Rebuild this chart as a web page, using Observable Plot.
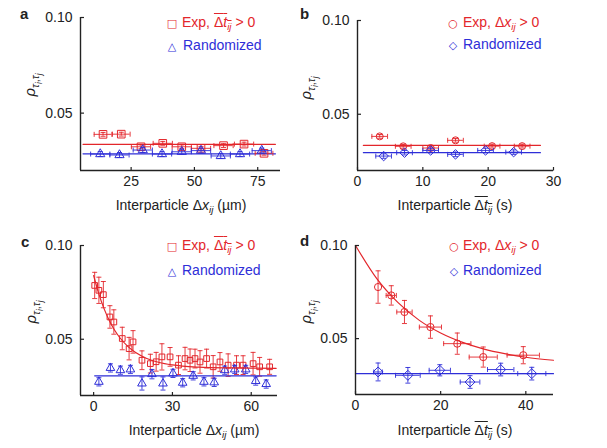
<!DOCTYPE html>
<html><head><meta charset="utf-8">
<script src="https://cdn.jsdelivr.net/npm/d3@7"></script>
<script src="https://cdn.jsdelivr.net/npm/@observablehq/plot@0.6"></script>
<style>
body{margin:0;background:#fff;}
#wrap{position:relative;width:607px;height:448px;overflow:hidden;font-family:"Liberation Sans",Arial,sans-serif;color:#222;}
.panel{position:absolute;}
.t{position:absolute;white-space:nowrap;font-size:14px;line-height:1;}
.c{transform:translate(-50%,-50%);}
.l{transform:translateY(-50%);}
.ylab{transform:translate(-50%,-50%) rotate(-90deg);font-size:15px;}
.letter{font-weight:bold;font-size:15px;}
.ov{text-decoration:overline;}
sub{font-size:70%;vertical-align:-0.35em;line-height:0;}
sub sub{font-size:80%;}
.sym{font-family:"DejaVu Sans";font-size:11px;}
.red{color:#e3262b;}
.blue{color:#2e2ed8;}
</style></head>
<body><div id="wrap"></div>
<script>
// ---------- data ----------
const red = "#e3262b", blue = "#2e2ed8";
const yDomain = [0.02, 0.10];
const yTicks = [0.05, 0.10];

// panel a
const aTicks = [25, 50, 75];
const aExpX = [13.9, 21.1, 28.9, 37.5, 45.0, 52.6, 61.5, 69.6, 77.5];
const aExpY = [0.0389, 0.0390, 0.0324, 0.0342, 0.0324, 0.0316, 0.0330, 0.0338, 0.0290];
const aExpXErr = [3.5, 3.5, 3.8, 3.8, 3.8, 3.8, 3.8, 3.8, 3.5];
const aExpYErr = [0.001, 0.001, 0.001, 0.001, 0.001, 0.001, 0.001, 0.001, 0.001];
const aRandX = [12.8, 20.4, 29.6, 37.2, 45.0, 52.6, 60.4, 68.0, 76.6];
const aRandY = [0.0286, 0.0281, 0.0307, 0.0286, 0.0298, 0.0304, 0.0276, 0.0286, 0.0304];
const aRandXErr = [3.8, 3.8, 3.8, 3.8, 3.8, 3.8, 3.8, 3.8, 3.8];
const aRandYErr = [0.0013, 0.0013, 0.0013, 0.0013, 0.0013, 0.0013, 0.0013, 0.0013, 0.0013];
const aFitX = [6, 82];
const aExpFitY = [0.0337, 0.0337];
const aRandFitY = [0.0287, 0.0287];

// panel b
const bTicks = [0, 10, 20, 30];
const bExpX = [3.4, 7.0, 11.2, 15.0, 20.6, 25.2];
const bExpY = [0.0382, 0.0329, 0.0320, 0.0361, 0.0330, 0.0330];
const bExpXErr = [1.2, 1.2, 1.2, 1.2, 1.2, 1.2];
const bExpYErr = [0.001, 0.001, 0.001, 0.001, 0.001, 0.001];
const bRandX = [4.0, 7.2, 11.2, 15.0, 19.6, 23.9];
const bRandY = [0.0277, 0.0295, 0.0307, 0.0286, 0.0307, 0.0298];
const bRandXErr = [1.2, 1.2, 1.2, 1.2, 1.2, 1.2];
const bRandYErr = [0.0012, 0.0012, 0.0012, 0.0012, 0.0012, 0.0012];
const bFitX = [0.9, 28];
const bExpFitY = [0.0334, 0.0334];
const bRandFitY = [0.0295, 0.0295];

// panel c
const cTicks = [0, 30, 60];
const cExpX = [0.4, 2.0, 3.7, 6.2, 7.7, 10.9, 13.5, 15.0, 18.4, 21.6, 23.8, 26.0, 29.1, 32.3, 34.8, 36.7, 38.6, 40.5, 43.0, 45.5, 48.1, 51.2, 54.4, 56.9, 60.7, 63.2, 67.0];
const cExpY = [0.0787, 0.0761, 0.0738, 0.0619, 0.0592, 0.0504, 0.0450, 0.0486, 0.0388, 0.0370, 0.0380, 0.0406, 0.0406, 0.0362, 0.0397, 0.0388, 0.0397, 0.0379, 0.0397, 0.0353, 0.0379, 0.0362, 0.0362, 0.0362, 0.0370, 0.0353, 0.0353];
const cExpYErr = [0.007, 0.007, 0.007, 0.006, 0.0065, 0.006, 0.006, 0.006, 0.005, 0.005, 0.005, 0.007, 0.005, 0.005, 0.006, 0.006, 0.005, 0.006, 0.005, 0.006, 0.005, 0.006, 0.005, 0.005, 0.006, 0.005, 0.004];
const cExpXErr = cExpX.map(() => 0);
const cRandX = [2.0, 6.4, 10.2, 14.0, 18.4, 22.2, 26.4, 30.2, 33.9, 37.9, 42.0, 45.9, 49.9, 53.7, 57.9, 61.7, 65.7];
const cRandY = [0.0273, 0.0347, 0.0335, 0.0339, 0.0264, 0.0314, 0.0264, 0.0318, 0.0268, 0.0305, 0.0273, 0.0270, 0.0335, 0.0339, 0.0339, 0.0277, 0.0261];
const cRandYErr = [0.0022, 0.0022, 0.0022, 0.0022, 0.0035, 0.0025, 0.0035, 0.0022, 0.0022, 0.0022, 0.0022, 0.0022, 0.0022, 0.0022, 0.0022, 0.0022, 0.0022];
const cRandXErr = cRandX.map(() => 0);
const cExpFitX = [0, 2, 4, 6, 8, 10, 13, 16, 20, 25, 30, 40, 50, 60, 69.5];
const cExpFitY = [0.084, 0.0741, 0.0662, 0.0599, 0.0548, 0.0508, 0.0462, 0.0429, 0.0399, 0.0376, 0.0363, 0.0351, 0.0347, 0.0346, 0.0345];
const cRandFitX = [0.4, 69.5];
const cRandFitY = [0.0305, 0.0305];

// panel d
const dTicks = [0, 20, 40];
const dExpX = [5.3, 8.4, 11.5, 17.6, 23.9, 30.0, 39.4];
const dExpY = [0.0777, 0.0732, 0.0643, 0.0562, 0.0473, 0.0401, 0.0411];
const dExpXErr = [0, 1.2, 1.8, 2.6, 3.2, 3.3, 3.8];
const dExpYErr = [0.0087, 0.0052, 0.0062, 0.0060, 0.0057, 0.0054, 0.0046];
const dRandX = [5.3, 12.3, 19.8, 26.9, 34.1, 41.4];
const dRandY = [0.0321, 0.0303, 0.0330, 0.0267, 0.0334, 0.0312];
const dRandXErr = [1.0, 2.9, 2.5, 2.3, 3.1, 3.3];
const dRandYErr = [0.0048, 0.0042, 0.0030, 0.0034, 0.0034, 0.0034];
const dExpFitX = [0, 5, 10, 15, 20, 25, 30, 35, 40, 46.5];
const dExpFitY = [0.100, 0.0822, 0.0693, 0.0598, 0.0530, 0.0481, 0.0445, 0.0419, 0.0400, 0.0384];
const dRandFitX = [0, 46.5];
const dRandFitY = [0.0312, 0.0312];

// ---------- helpers ----------
const vbar = {draw(ctx, size) { const r = Math.sqrt(size / Math.PI); ctx.moveTo(0, -r); ctx.lineTo(0, r); }};
const hbar = {draw(ctx, size) { const r = Math.sqrt(size / Math.PI); ctx.moveTo(-r, 0); ctx.lineTo(r, 0); }};
const upTick = {draw(ctx, size) { const r = Math.sqrt(size / Math.PI); ctx.moveTo(0, 0); ctx.lineTo(0, -r); }};
const rightTick = {draw(ctx, size) { const r = Math.sqrt(size / Math.PI); ctx.moveTo(0, 0); ctx.lineTo(r, 0); }};

function series(xs, ys, exs, eys, color, symbol, r) {
  const data = xs.map((x, i) => ({x, y: ys[i], ex: exs[i], ey: eys[i]}));
  const hx = data.filter(d => d.ex > 0);
  const sw = 0.9;
  return [
    Plot.ruleY(hx, {y: "y", x1: d => d.x - d.ex, x2: d => d.x + d.ex, stroke: color, strokeWidth: sw}),
    Plot.dot(hx, {x: d => d.x - d.ex, y: "y", symbol: vbar, r: 2.5, stroke: color, strokeWidth: sw}),
    Plot.dot(hx, {x: d => d.x + d.ex, y: "y", symbol: vbar, r: 2.5, stroke: color, strokeWidth: sw}),
    Plot.ruleX(data, {x: "x", y1: d => d.y - d.ey, y2: d => d.y + d.ey, stroke: color, strokeWidth: sw}),
    Plot.dot(data, {x: "x", y: d => d.y - d.ey, symbol: hbar, r: 2.5, stroke: color, strokeWidth: sw}),
    Plot.dot(data, {x: "x", y: d => d.y + d.ey, symbol: hbar, r: 2.5, stroke: color, strokeWidth: sw}),
    Plot.dot(data, {x: "x", y: "y", symbol, r, stroke: color, fill: "none", strokeWidth: 1})
  ];
}
function fit(xs, ys, color) {
  return Plot.line(xs.map((x, i) => ({x, y: ys[i]})), {x: "x", y: "y", stroke: color, strokeWidth: 1.2, curve: "monotone-x"});
}

const wrap = document.getElementById("wrap");
function place(svg, left, top) {
  const d = document.createElement("div");
  d.className = "panel"; d.style.left = left + "px"; d.style.top = top + "px";
  d.appendChild(svg); wrap.appendChild(d);
}
function panel(o) {
  const x0 = o.xDomain[0], y0 = yDomain[0];
  const frame = [
    Plot.ruleY([y0], {stroke: "#222", strokeWidth: 1.4}),
    Plot.ruleX([x0], {stroke: "#222", strokeWidth: 1.4}),
    Plot.dot(o.xTicks, {x: d => d, y: () => y0, symbol: upTick, r: 3.5, stroke: "#222", strokeWidth: 1.2}),
    Plot.dot(yTicks, {x: () => x0, y: d => d, symbol: rightTick, r: 3.5, stroke: "#222", strokeWidth: 1.2})
  ];
  return Plot.plot({
    width: o.width, height: o.height,
    marginLeft: o.ml, marginRight: o.mr, marginTop: o.mt, marginBottom: o.mb,
    x: {domain: o.xDomain, ticks: o.xTicks, tickFormat: d3.format("d"), label: null, tickSize: 0, tickPadding: 6},
    y: {domain: yDomain, ticks: yTicks, tickFormat: d3.format(".2f"), label: null, tickSize: 0, tickPadding: 8},
    style: {fontFamily: "'Liberation Sans', Arial, sans-serif", fontSize: "14px", color: "#222", background: "transparent", overflow: "visible"},
    marks: [...o.marks, ...frame]
  });
}

// ---------- panels ----------
place(panel({width: 300, height: 220, ml: 80, mr: 20, mt: 17, mb: 50, xDomain: [5, 84], xTicks: aTicks,
  marks: [
    fit(aFitX, aExpFitY, red), fit(aFitX, aRandFitY, blue),
    ...series(aExpX, aExpY, aExpXErr, aExpYErr, red, "square", 4.3),
    ...series(aRandX, aRandY, aRandXErr, aRandYErr, blue, "triangle", 3.4)
  ]}), 0, 0);

place(panel({width: 307, height: 220, ml: 57, mr: 54, mt: 20, mb: 50, xDomain: [0, 30], xTicks: bTicks,
  marks: [
    fit(bFitX, bExpFitY, red), fit(bFitX, bRandFitY, blue),
    ...series(bExpX, bExpY, bExpXErr, bExpYErr, red, "circle", 3.5),
    ...series(bRandX, bRandY, bRandXErr, bRandYErr, blue, "diamond2", 4.3)
  ]}), 300, 0);

place(panel({width: 300, height: 228, ml: 80, mr: 23, mt: 25, mb: 53, xDomain: [-5, 70], xTicks: cTicks,
  marks: [
    ...series(cExpX, cExpY, cExpXErr, cExpYErr, red, "square", 3.2),
    ...series(cRandX, cRandY, cRandXErr, cRandYErr, blue, "triangle", 3.2),
    fit(cExpFitX, cExpFitY, red), fit(cRandFitX, cRandFitY, blue)
  ]}), 0, 220);

place(panel({width: 307, height: 228, ml: 55, mr: 54, mt: 25, mb: 54, xDomain: [0, 46.5], xTicks: dTicks,
  marks: [
    fit(dExpFitX, dExpFitY, red), fit(dRandFitX, dRandFitY, blue),
    ...series(dExpX, dExpY, dExpXErr, dExpYErr, red, "circle", 3.6),
    ...series(dRandX, dRandY, dRandXErr, dRandYErr, blue, "diamond2", 4.5)
  ]}), 300, 220);

// ---------- texts ----------
function txt(html, x, y, cls) {
  const d = document.createElement("div");
  d.className = "t " + cls; d.style.left = x + "px"; d.style.top = y + "px";
  d.innerHTML = html; wrap.appendChild(d);
}
const dtHTML = '<span class="ov">Δ<i>t</i><sub><i>ij</i></sub></span>';
const dxHTML = 'Δ<i>x</i><sub><i>ij</i></sub>';
const rhoHTML = '<i>ρ</i><sub><i>τ</i><sub><i>i</i></sub>,<i>τ</i><sub><i>j</i></sub></sub>';

// letters
txt("a", 20, 13, "letter l"); txt("b", 300, 13, "letter l");
txt("c", 21, 241, "letter l"); txt("d", 300, 240, "letter l");
// y labels
txt(rhoHTML, 30, 85, "ylab"); txt(rhoHTML, 306, 88, "ylab");
txt(rhoHTML, 31, 312, "ylab"); txt(rhoHTML, 306, 312, "ylab");
// x labels
txt("Interparticle " + dxHTML + " (µm)", 181, 205, "c");
txt("Interparticle " + dtHTML + " (s)", 455, 205, "c");
txt("Interparticle " + dxHTML + " (µm)", 194, 430, "c");
txt("Interparticle " + dtHTML + " (s)", 455, 430, "c");
// legends
txt('<span class="sym">□</span>', 172, 22, "c red"); txt("Exp, " + dtHTML + " &gt; 0", 182, 22, "l red");
txt('<span class="sym">△</span>', 172, 45, "c blue"); txt("Randomized", 183, 45, "l blue");
txt('<span class="sym">○</span>', 453, 22, "c red"); txt("Exp, " + dxHTML + " &gt; 0", 463, 22, "l red");
txt('<span class="sym">◇</span>', 453, 44, "c blue"); txt("Randomized", 463, 44, "l blue");
txt('<span class="sym">□</span>', 172, 245, "c red"); txt("Exp, " + dtHTML + " &gt; 0", 182, 245, "l red");
txt('<span class="sym">△</span>', 172, 270, "c blue"); txt("Randomized", 182, 270, "l blue");
txt('<span class="sym">○</span>', 454, 245, "c red"); txt("Exp, " + dxHTML + " &gt; 0", 463, 245, "l red");
txt('<span class="sym">◇</span>', 454, 270, "c blue"); txt("Randomized", 463, 270, "l blue");
</script>
</body></html>
